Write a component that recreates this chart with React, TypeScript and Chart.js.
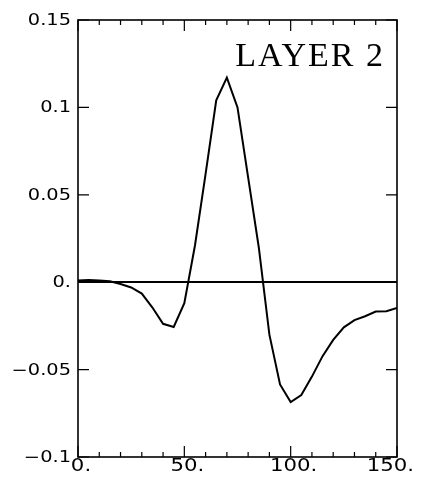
import React, { useEffect, useRef } from "react";
import { Chart, registerables } from "chart.js";

Chart.register(...registerables);

const xValues = [0, 5, 10, 15, 20, 25, 30, 35, 40, 45, 50, 55, 60, 65, 70, 75, 80, 85, 90, 95, 100, 105, 110, 115, 120, 125, 130, 135, 140, 145, 150];
const layer2 = [0.001, 0.0012, 0.001, 0.0005, -0.001, -0.003, -0.0065, -0.0145, -0.0238, -0.0256, -0.012, 0.021, 0.062, 0.104, 0.117, 0.1, 0.06, 0.02, -0.03, -0.0585, -0.0686, -0.0646, -0.054, -0.0423, -0.033, -0.0258, -0.0217, -0.0195, -0.0168, -0.0166, -0.0147];

const xMajorTicks = [0, 50, 100, 150];
const xTickLabels = ["0.", "50.", "100.", "150."];
const xMinorTicks = [10, 20, 30, 40, 60, 70, 80, 90, 110, 120, 130, 140];
const yMajorTicks = [0.15, 0.1, 0.05, 0, -0.05, -0.1];
const yTickLabels = ["0.15", "0.1", "0.05", "0.", "\u22120.05", "\u22120.1"];
const panelLabel = "LAYER 2";

const HS = 1.25; // horizontal stretch of the tick-label font

function drawStretched(ctx: any, t: string, x0: number, y: number) {
  ctx.save();
  ctx.translate(x0, y);
  ctx.scale(HS, 1);
  ctx.fillText(t, 0, 0);
  ctx.restore();
}

const framePlugin = {
  id: "frame",
  afterDraw(chart: any) {
    const { ctx, chartArea, scales } = chart;
    const { left, right, top, bottom } = chartArea;
    const xs = scales.x;
    const ys = scales.y;
    ctx.save();
    ctx.strokeStyle = "#000";
    ctx.lineWidth = 1.6;
    ctx.strokeRect(left, top, right - left, bottom - top);
    ctx.lineWidth = 1.2;
    ctx.beginPath();
    xMajorTicks.forEach((v) => {
      const px = xs.getPixelForValue(v);
      ctx.moveTo(px, bottom);
      ctx.lineTo(px, bottom - 11);
      ctx.moveTo(px, top);
      ctx.lineTo(px, top + 11);
    });
    xMinorTicks.forEach((v) => {
      const px = xs.getPixelForValue(v);
      ctx.moveTo(px, bottom);
      ctx.lineTo(px, bottom - 5);
      ctx.moveTo(px, top);
      ctx.lineTo(px, top + 5);
    });
    yMajorTicks.forEach((v) => {
      const py = ys.getPixelForValue(v);
      ctx.moveTo(left, py);
      ctx.lineTo(left + 11, py);
      ctx.moveTo(right, py);
      ctx.lineTo(right - 11, py);
    });
    ctx.stroke();

    ctx.fillStyle = "#000";
    ctx.textBaseline = "middle";
    ctx.textAlign = "left";
    // y labels
    ctx.font = "15.5px 'DejaVu Sans'";
    yMajorTicks.forEach((v, i) => {
      const py = ys.getPixelForValue(v);
      const t = yTickLabels[i];
      const w = ctx.measureText(t).width * HS;
      drawStretched(ctx, t, left - 7 - w, py + 1);
    });
    // x labels
    ctx.font = "17px 'DejaVu Sans'";
    const W = chart.width;
    xMajorTicks.forEach((v, i) => {
      const px = xs.getPixelForValue(v);
      const t = xTickLabels[i];
      const w = ctx.measureText(t).width * HS;
      let x0 = px - w / 2 + 3;
      if (x0 + w > W - 8) x0 = W - 8 - w;
      drawStretched(ctx, t, x0, bottom + 10);
    });
    // panel label
    ctx.font = "34px 'Liberation Serif'";
    (ctx as any).letterSpacing = "2px";
    ctx.textBaseline = "alphabetic";
    const lw = ctx.measureText(panelLabel).width - 2;
    ctx.fillText(panelLabel, right - 14 - lw, top + 46);
    (ctx as any).letterSpacing = "0px";
    ctx.restore();
  },
};

export default function App() {
  const ref = useRef<HTMLCanvasElement>(null);
  useEffect(() => {
    if (!ref.current) return;
    const chart = new Chart(ref.current, {
      type: "line",
      data: {
        datasets: [
          {
            data: xValues.map((x, i) => ({ x, y: layer2[i] })),
            borderColor: "#000",
            borderWidth: 2,
            pointRadius: 0,
            tension: 0,
            fill: false,
          },
        ],
      },
      options: {
        responsive: false,
        animation: false,
        devicePixelRatio: 1,
        layout: { padding: { left: 78, right: 25, top: 20, bottom: 35 } },
        plugins: { legend: { display: false }, tooltip: { enabled: false } },
        scales: {
          x: {
            type: "linear",
            min: 0,
            max: 150,
            ticks: { display: false },
            grid: { display: false, drawTicks: false },
            border: { display: false },
            afterFit: (s: any) => {
              s.height = 0;
            },
          },
          y: {
            type: "linear",
            min: -0.1,
            max: 0.15,
            ticks: { display: false, stepSize: 0.05 },
            grid: {
              drawTicks: false,
              color: (c: any) => (c.tick && Math.abs(c.tick.value) < 1e-9 ? "#000" : "rgba(0,0,0,0)"),
              lineWidth: 2,
            },
            border: { display: false },
            afterFit: (s: any) => {
              s.width = 0;
            },
          },
        },
      },
      plugins: [framePlugin],
    });
    return () => chart.destroy();
  }, []);
  return (
    <canvas
      ref={ref}
      width={422}
      height={492}
      style={{ position: "absolute", left: 0, top: 0, display: "block", background: "#fff" }}
    />
  );
}
